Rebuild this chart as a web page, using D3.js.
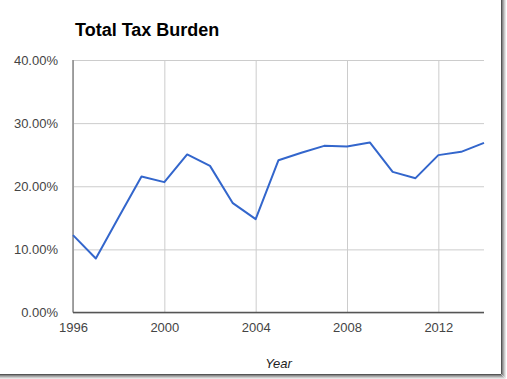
<!DOCTYPE html>
<html><head><meta charset="utf-8">
<script src="https://cdn.jsdelivr.net/npm/d3@7"></script>
<style>body{margin:0;background:#fff;}svg{display:block;}</style>
</head><body>
<script>
const years = [1996,1997,1998,1999,2000,2001,2002,2003,2004,2005,2006,2007,2008,2009,2010,2011,2012,2013,2014];
const burden = [12.25,8.56,15.1,21.55,20.65,25.04,23.23,17.32,14.79,24.13,25.3,26.4,26.3,26.94,22.28,21.28,24.93,25.45,26.88];
const yTicks = [0,10,20,30,40];
const xTicks = [1996,2000,2004,2008,2012];
const title = "Total Tax Burden";
const xTitle = "Year";

(function(){
const W = 507, H = 379;
const svg = d3.select("body").append("svg").attr("width", W).attr("height", H);
const pL = 73, pR = 484, pT = 60, pB = 312.5;
const x = d3.scaleLinear().domain([1996, 2014]).range([pL, pR]);
const y = d3.scaleLinear().domain([0, 40]).range([pB, pT]);

// frame shadow on right and bottom
const shades = ["#555","#888","#aaa","#ccc","#e6e6e6"];
shades.forEach((c,i)=>{
  svg.append("line").attr("x1",501.5+i).attr("x2",501.5+i).attr("y1",0).attr("y2",374+i).attr("stroke",c).attr("stroke-width",1);
  svg.append("line").attr("x1",0).attr("x2",501.5+i).attr("y1",374.5+i).attr("y2",374.5+i).attr("stroke",c).attr("stroke-width",1);
});

const font = "Arial, 'Liberation Sans', sans-serif";
const yAxis = d3.axisLeft(y).tickValues(yTicks).tickSize(-(pR-pL)).tickFormat(d => d3.format(".2f")(d) + "%").tickPadding(15);
const gy = svg.append("g").attr("transform", `translate(${pL},0)`).call(yAxis);
gy.select(".domain").remove();
gy.selectAll(".tick line").attr("stroke", "#ccc");
gy.selectAll(".tick text").attr("fill", "#444").attr("font-family", font).attr("font-size", 13);

const xAxis = d3.axisBottom(x).tickValues(xTicks).tickSize(-(pB-pT)).tickFormat(d3.format("d")).tickPadding(10);
const gx = svg.append("g").attr("transform", `translate(0,${pB})`).call(xAxis);
gx.select(".domain").remove();
gx.selectAll(".tick line").attr("stroke", "#ccc");
gx.selectAll(".tick text").attr("fill", "#444").attr("font-family", font).attr("font-size", 13);

svg.append("line").attr("x1", pL).attr("x2", pL).attr("y1", pT).attr("y2", pB).attr("stroke", "#888").attr("stroke-width", 1.5);
svg.append("line").attr("x1", pL).attr("x2", pR).attr("y1", pB).attr("y2", pB).attr("stroke", "#555").attr("stroke-width", 1.5);

const line = d3.line().x((d,i) => x(years[i])).y(d => y(d));
svg.append("path").datum(burden).attr("d", line).attr("fill", "none").attr("stroke", "#3366cc").attr("stroke-width", 2).attr("stroke-linejoin","round");

svg.append("text").attr("x", 75).attr("y", 36).text(title)
  .attr("font-family", font).attr("font-weight", "bold").attr("font-size", 18).attr("fill", "#000");
svg.append("text").attr("x", (pL+pR)/2).attr("y", 368).attr("text-anchor", "middle").text(xTitle)
  .attr("font-family", font).attr("font-style", "italic").attr("font-size", 13).attr("fill", "#222");
})();
</script>
</body></html>
